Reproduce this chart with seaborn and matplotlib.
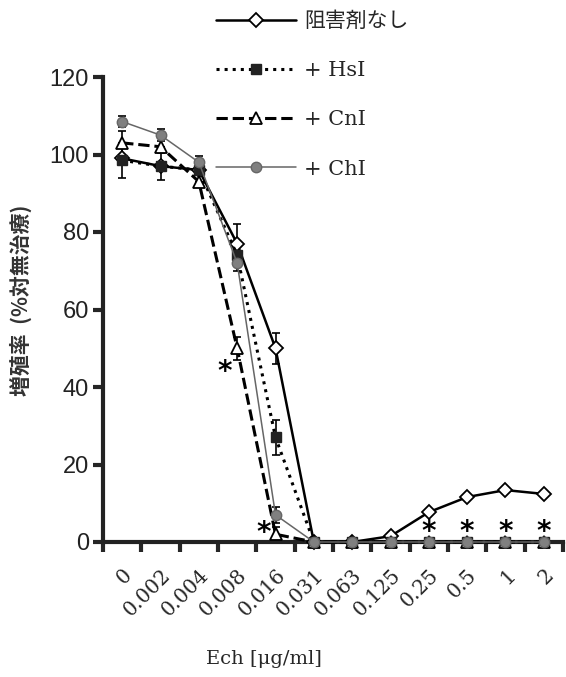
import pandas as pd
import matplotlib
matplotlib.use("Agg")
import matplotlib.pyplot as plt
from matplotlib.lines import Line2D
import seaborn as sns

conc = ["0", "0.002", "0.004", "0.008", "0.016", "0.031",
        "0.063", "0.125", "0.25", "0.5", "1", "2"]

none_vals = [99, 97, 96, 77, 50, 0, 0, 1.5, 7.7, 11.6, 13.4, 12.4]
none_err = [0, 0, 0, 5, 4, 0, 0, 0, 0, 0, 0, 0]
hsi_vals = [98.5, 97, 96, 74, 27, 0, 0, 0, 0, 0, 0, 0]
hsi_err = [4.5, 3.5, 0, 0, 4.5, 0, 0, 0, 0, 0, 0, 0]
cni_vals = [103, 102, 93, 50, 2, 0, 0, 0, 0, 0, 0, 0]
cni_err = [3, 0, 0, 3, 2, 0, 0, 0, 0, 0, 0, 0]
chi_vals = [108.5, 105, 98, 72, 7, 0, 0, 0, 0, 0, 0, 0]
chi_err = [1.5, 1.5, 1.5, 2, 2, 0, 0, 0, 0, 0, 0, 0]

labels = ["阻害剤なし", "+ HsI", "+ CnI", "+ ChI"]
star_idx = [3, 4, 8, 9, 10, 11]

df = pd.DataFrame({"conc": conc, "none": none_vals, "hsi": hsi_vals,
                   "cni": cni_vals, "chi": chi_vals})

sns.set_style("ticks")
serif = ["DejaVu Serif", "Noto Sans CJK JP"]
plt.rcParams["font.family"] = serif

fig = plt.figure(figsize=(5.66, 6.77), dpi=100)
ax = fig.add_axes([103 / 566, 1 - 542 / 677, 460 / 566, 465 / 677])

styles = [
    ("none", none_err, dict(color="black", linestyle="-", marker="D", markersize=7.5,
                            markerfacecolor="white", markeredgecolor="black",
                            markeredgewidth=1.3, linewidth=1.8)),
    ("hsi", hsi_err, dict(color="black", linestyle=":", marker="s", markersize=7,
                          markerfacecolor="#222222", markeredgecolor="#222222",
                          markeredgewidth=1, linewidth=2.2)),
    ("cni", cni_err, dict(color="black", linestyle="--", marker="^", markersize=9,
                          markerfacecolor="white", markeredgecolor="black",
                          markeredgewidth=1.3, linewidth=2.2)),
    ("chi", chi_err, dict(color="#666666", linestyle="-", marker="o", markersize=7.5,
                          markerfacecolor="#808080", markeredgecolor="#666666",
                          markeredgewidth=1, linewidth=1.1)),
]

for key, err, kw in styles:
    ax.errorbar(range(len(conc)), df[key], yerr=err, fmt="none", ecolor="black",
                elinewidth=1.2, capsize=3, capthick=1.2, clip_on=False, zorder=2)
    sns.pointplot(data=df, x="conc", y=key, order=conc, errorbar=None, ax=ax,
                  clip_on=False, zorder=3, **kw)

# significance marks
for i in star_idx:
    if i == 3:
        xs, ys = i - 0.32, cni_vals[i] - 6
    elif i == 4:
        xs, ys = i - 0.32, cni_vals[i] + 0.3
    else:
        xs, ys = i, 2.7
    ax.text(xs, ys, "*", ha="center", va="center", fontsize=20,
            fontweight="bold", family="DejaVu Sans", color="black")

ax.set_ylim(0, 120)
ax.set_xlim(-0.5, len(conc) - 0.5)
ax.set_yticks([0, 20, 40, 60, 80, 100, 120])
ax.set_yticklabels([str(v) for v in [0, 20, 40, 60, 80, 100, 120]],
                   family="Liberation Sans", fontsize=17, color="#222222")
ax.tick_params(axis="y", width=3, length=7, direction="out", pad=3)
ax.set_xticks(range(len(conc)))
ax.set_xticklabels(conc, rotation=45, ha="right", rotation_mode="anchor",
                   fontsize=14.5, family="DejaVu Serif")
ax.set_xticks([i - 0.5 for i in range(len(conc) + 1)], minor=True)
ax.tick_params(axis="x", which="major", length=0, pad=17)
ax.tick_params(axis="x", which="minor", length=7, width=3, direction="out")
for sp in ["top", "right"]:
    ax.spines[sp].set_visible(False)
for sp in ["left", "bottom"]:
    ax.spines[sp].set_linewidth(3)
    ax.spines[sp].set_color("#222222")

ax.set_ylabel("増殖率  (%対無治療)", family="Noto Sans CJK JP", fontsize=15,
              fontweight="bold", color="#333333")
ax.yaxis.set_label_coords(-0.155, 0.52)
ax.set_xlabel("Ech [μg/ml]", fontsize=14, family="DejaVu Serif")
ax.xaxis.set_label_coords(0.35, -0.232)

handles = [Line2D([], [], **kw) for _, _, kw in styles]
fig.legend(handles, labels, loc="upper left", bbox_to_anchor=(206 / 566, 1 - 1 / 677),
           frameon=False, handlelength=3.8, handletextpad=0.4, labelspacing=1.45,
           borderpad=0, prop={"family": serif, "size": 15})

fig.savefig("out.png", dpi=100)
